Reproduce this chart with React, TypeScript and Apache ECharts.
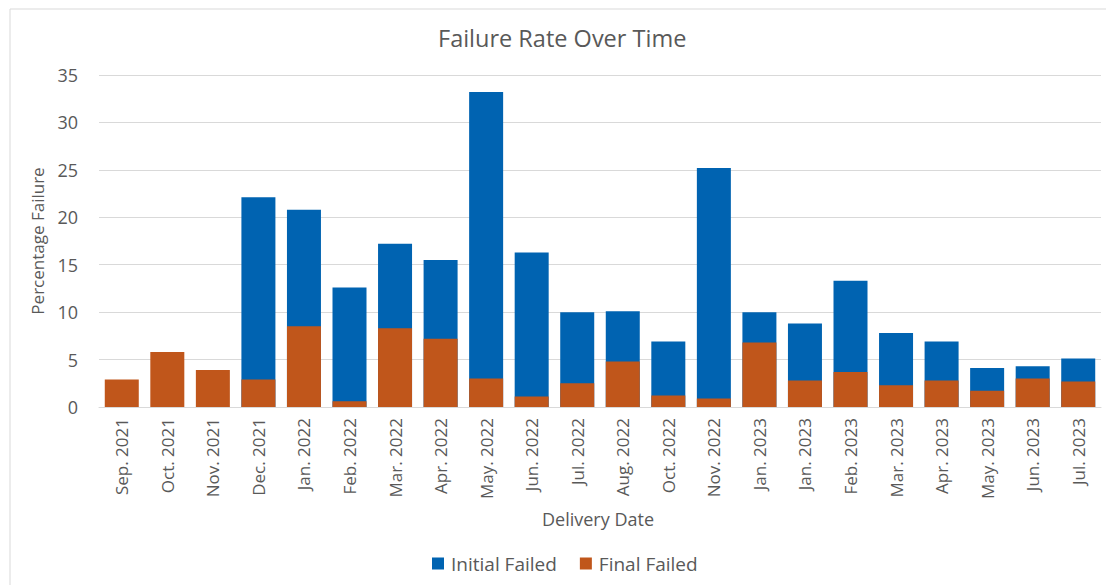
import React, { useEffect, useRef } from "react";
import * as echarts from "echarts";

const categories = [
  "Sep. 2021", "Oct. 2021", "Nov. 2021", "Dec. 2021", "Jan. 2022", "Feb. 2022",
  "Mar. 2022", "Apr. 2022", "May. 2022", "Jun. 2022", "Jul. 2022", "Aug. 2022",
  "Oct. 2022", "Nov. 2022", "Jan. 2023", "Jan. 2023", "Feb. 2023", "Mar. 2023",
  "Apr. 2023", "May. 2023", "Jun. 2023", "Jul. 2023",
];

const initialFailed: (number | null)[] = [
  null, null, null, 22.1, 20.8, 12.6, 17.2, 15.5, 33.2, 16.3, 10.0, 10.1,
  6.9, 25.2, 10.0, 8.8, 13.3, 7.8, 6.9, 4.1, 4.3, 5.1,
];

const finalFailed: number[] = [
  2.9, 5.8, 3.9, 2.9, 8.5, 0.6, 8.3, 7.2, 3.0, 1.1, 2.5, 4.8,
  1.2, 0.9, 6.8, 2.8, 3.7, 2.3, 2.8, 1.7, 3.0, 2.7,
];

const yTicks = { min: 0, max: 35, interval: 5 };

const TEXT = "#595959";
const FONT = "'Open Sans', 'Noto Sans', sans-serif";

export default function App() {
  const ref = useRef<HTMLDivElement>(null);
  useEffect(() => {
    if (!ref.current) return;
    const chart = echarts.init(ref.current, undefined, { renderer: "svg" });
    chart.setOption({
      animation: false,
      backgroundColor: "#ffffff",
      title: {
        text: "Failure Rate Over Time",
        left: 433,
        top: 21,
        textStyle: { fontFamily: FONT, fontSize: 23.5, fontWeight: "normal", color: TEXT },
      },
      legend: {
        bottom: 7,
        left: 427,
        icon: "rect",
        itemWidth: 12,
        itemHeight: 12,
        itemGap: 23,
        textStyle: {
          fontFamily: "'Liberation Sans Narrow', 'Open Sans', sans-serif",
          fontSize: 19,
          color: TEXT,
          padding: [0, 0, 0, 2],
        },
        data: ["Initial Failed", "Final Failed"],
      },
      grid: { left: 99, right: 5, top: 75, bottom: 178, containLabel: false },
      xAxis: {
        type: "category",
        data: categories,
        axisTick: { show: false },
        axisLine: { lineStyle: { color: "#d9d9d9", width: 1 } },
        axisLabel: {
          interval: 0,
          rotate: 90,
          margin: 11,
          fontFamily: FONT,
          fontSize: 17,
          color: TEXT,
        },
      },
      yAxis: {
        type: "value",
        min: yTicks.min,
        max: yTicks.max,
        interval: yTicks.interval,
        name: "Percentage Failure",
        nameLocation: "middle",
        nameGap: 53,
        nameTextStyle: { fontFamily: FONT, fontSize: 17, color: TEXT },
        axisLine: { show: false },
        axisTick: { show: false },
        axisLabel: { margin: 21, fontFamily: FONT, fontSize: 18, color: TEXT },
        splitLine: { lineStyle: { color: "#d9d9d9", width: 1 } },
      },
      graphic: [
        {
          type: "rect",
          shape: { x: 10, y: 9, width: 1120, height: 620 },
          style: { fill: "none", stroke: "#d9d9d9", lineWidth: 1 },
          silent: true,
        },
        {
          type: "text",
          x: 598,
          y: 519,
          style: {
            text: "Delivery Date",
            fontFamily: FONT,
            fontSize: 18,
            fill: TEXT,
            align: "center",
            verticalAlign: "middle",
          },
        },
      ],
      series: [
        {
          name: "Initial Failed",
          type: "bar",
          data: initialFailed,
          barWidth: 34,
          barGap: "-100%",
          itemStyle: { color: "#0063B1" },
        },
        {
          name: "Final Failed",
          type: "bar",
          data: finalFailed,
          barWidth: 34,
          barGap: "-100%",
          itemStyle: { color: "#C0561B" },
        },
      ],
    });
    return () => chart.dispose();
  }, []);
  return (
    <div
      ref={ref}
      style={{ position: "fixed", left: 0, top: 0, width: 1106, height: 585 }}
    />
  );
}
